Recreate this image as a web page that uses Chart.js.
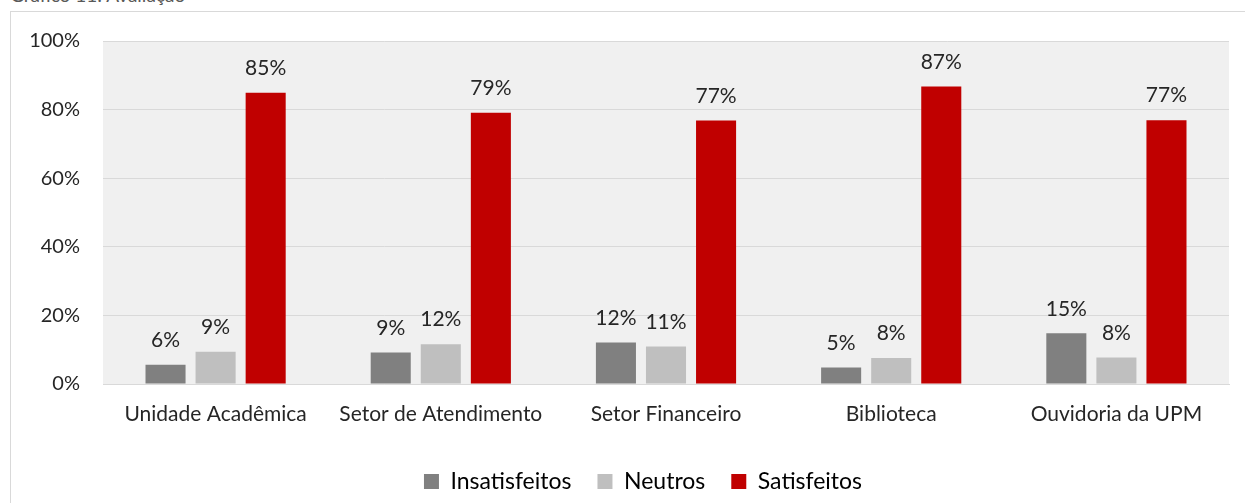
<!DOCTYPE html>
<html>
<head>
<meta charset="utf-8">
<script src="https://cdn.jsdelivr.net/npm/chart.js@4"></script>
<style>
    html, body { margin: 0; padding: 0; background: #fff; }
    body { width: 1245px; height: 503px; position: relative; overflow: hidden; font-family: Lato, sans-serif; }
    #title { position: absolute; left: 10px; top: -17px; font-size: 19px; color: #595959; }
    #frame { position: absolute; left: 10px; top: 11px; width: 1245px; height: 500px; border: 1px solid #d9d9d9; box-sizing: border-box; }
    #wrap { position: absolute; left: 11px; top: 12px; width: 1234px; height: 491px; }
</style>
</head>
<body>
<div id="title">Gráfico 11: Avaliação</div>
<div id="frame"></div>
<div id="wrap"><canvas id="chart1"></canvas></div>
<script>
document.addEventListener('DOMContentLoaded', function() {
    // --- Data ---
    const categories = ['Unidade Acadêmica', 'Setor de Atendimento', 'Setor Financeiro', 'Biblioteca', 'Ouvidoria da UPM'];
    const insatisfeitos = [5.6, 9.2, 12.1, 4.8, 14.8];
    const neutros = [9.4, 11.6, 10.9, 7.6, 7.7];
    const satisfeitos = [84.9, 79.1, 76.8, 86.7, 76.9];
    const yTicks = [0, 20, 40, 60, 80, 100];

    // plot background
    const plotBg = {
        id: 'plotBg',
        beforeDraw(chart) {
            const { ctx, chartArea: a } = chart;
            ctx.save();
            ctx.fillStyle = '#f0f0f0';
            ctx.fillRect(a.left, a.top, a.right - a.left, a.bottom - a.top);
            ctx.restore();
        }
    };

    // legend sits centred under the plot, not the whole canvas
    const legendShift = {
        id: 'legendShift',
        afterLayout(chart) {
            chart.legend.left += 23;
            chart.legend.right += 23;
        }
    };

    // value labels over the bars
    const barLabels = {
        id: 'barLabels',
        afterDatasetsDraw(chart) {
            const ctx = chart.ctx;
            ctx.save();
            ctx.font = '21px Lato, sans-serif';
            ctx.fillStyle = '#262626';
            ctx.textAlign = 'center';
            ctx.textBaseline = 'bottom';
            chart.data.datasets.forEach((ds, i) => {
                chart.getDatasetMeta(i).data.forEach((bar, j) => {
                    ctx.fillText(Math.round(ds.data[j]) + '%', bar.x, bar.y - 14);
                });
            });
            ctx.restore();
        }
    };

    const ctx = document.getElementById('chart1').getContext('2d');
    new Chart(ctx, {
        type: 'bar',
        data: {
            labels: categories,
            datasets: [
                { label: 'Insatisfeitos', data: insatisfeitos, backgroundColor: '#808080' },
                { label: 'Neutros', data: neutros, backgroundColor: '#bfbfbf' },
                { label: 'Satisfeitos', data: satisfeitos, backgroundColor: '#c00000' }
            ]
        },
        options: {
            responsive: true,
            maintainAspectRatio: false,
            animation: false,
            layout: { padding: { top: 29, right: 16, left: 0, bottom: 0 } },
            datasets: { bar: { categoryPercentage: 0.667, barPercentage: 0.8 } },
            plugins: {
                legend: {
                    position: 'bottom',
                    labels: {
                        boxWidth: 15, boxHeight: 15, padding: 26,
                        color: '#000',
                        font: { family: 'Lato, sans-serif', size: 23 }
                    }
                },
                tooltip: { enabled: false }
            },
            scales: {
                x: {
                    grid: { display: false },
                    border: { color: '#d9d9d9' },
                    ticks: { color: '#262626', padding: 10, font: { family: 'Lato, sans-serif', size: 21 } },
                    afterFit(scale) { scale.height = 60; }
                },
                y: {
                    min: 0, max: 100,
                    afterBuildTicks(scale) { scale.ticks = yTicks.map(v => ({ value: v })); },
                    grid: { color: '#d9d9d9', tickColor: 'rgba(0,0,0,0)', tickLength: 23 },
                    border: { display: false },
                    ticks: {
                        color: '#262626', padding: 0,
                        font: { family: 'Lato, sans-serif', size: 20 },
                        callback: v => v + '%'
                    },
                    afterFit(scale) { scale.width = 92; }
                }
            }
        },
        plugins: [plotBg, legendShift, barLabels]
    });
});
</script>
</body>
</html>
